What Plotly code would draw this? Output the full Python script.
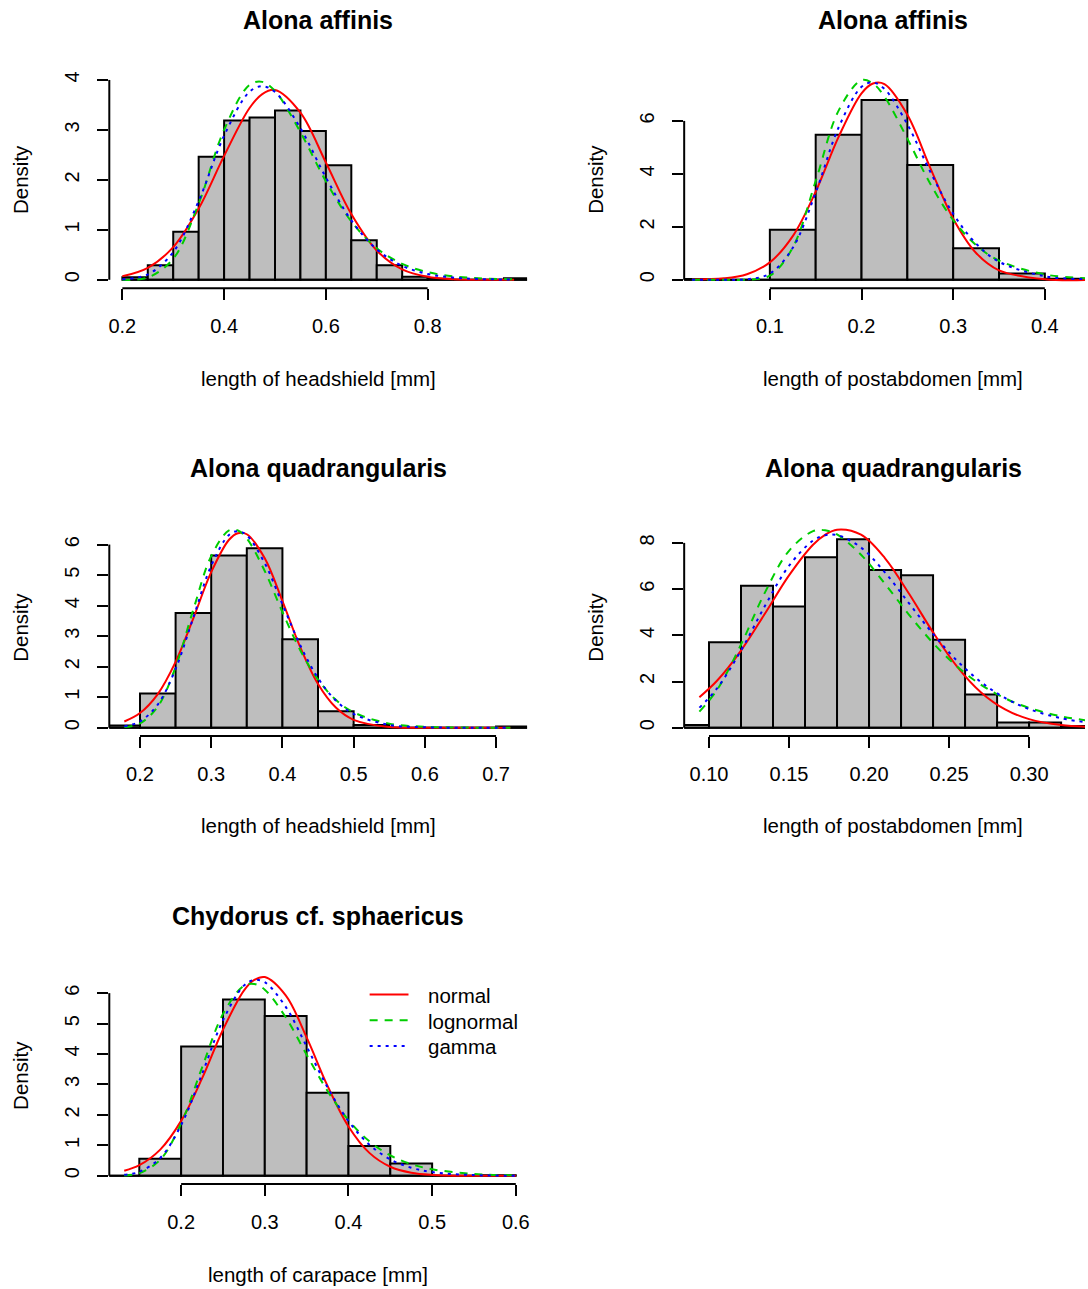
import plotly.graph_objects as go

# ------------------------------------------------------------------ data
TITLES = ["Alona affinis", "Alona affinis", "Alona quadrangularis",
          "Alona quadrangularis", "Chydorus cf. sphaericus"]
XLABELS = ["length of headshield [mm]", "length of postabdomen [mm]",
           "length of headshield [mm]", "length of postabdomen [mm]",
           "length of carapace [mm]"]
YLABEL = "Density"

# panel 1 : Alona affinis, headshield
P1_BREAKS = [0.20, 0.25, 0.30, 0.35, 0.40, 0.45, 0.50, 0.55, 0.60, 0.65,
             0.70, 0.75, 0.80, 0.85, 0.90, 0.95, 1.00]
P1_DENSITY = [0.05, 0.29, 0.96, 2.46, 3.19, 3.25, 3.39, 2.98, 2.29, 0.79,
              0.29, 0.06, 0.02, 0.00, 0.00, 0.03]
P1_X = [0.20, 0.25, 0.30, 0.35, 0.40, 0.45, 0.475, 0.50, 0.55, 0.60, 0.65,
        0.70, 0.75, 0.80, 0.85, 0.90, 0.97]
P1_NORMAL = [0.070, 0.239, 0.654, 1.426, 2.480, 3.438, 3.717, 3.798, 3.345,
             2.348, 1.315, 0.586, 0.208, 0.059, 0.013, 0.002, 0.000]
P1_LOGNORMAL = [0.001, 0.046, 0.422, 1.525, 3.002, 3.902, 3.961, 3.779, 2.954,
                1.972, 1.168, 0.632, 0.319, 0.153, 0.070, 0.031, 0.010]
P1_GAMMA = [0.009, 0.107, 0.555, 1.575, 2.884, 3.764, 3.874, 3.760, 3.035,
            2.048, 1.190, 0.609, 0.280, 0.117, 0.045, 0.016, 0.003]
P1_XTICKS = [0.2, 0.4, 0.6, 0.8]
P1_XTICKTEXT = ["0.2", "0.4", "0.6", "0.8"]
P1_YTICKS = [0, 1, 2, 3, 4]

# panel 2 : Alona affinis, postabdomen
P2_BREAKS = [0.00, 0.05, 0.10, 0.15, 0.20, 0.25, 0.30, 0.35, 0.40, 0.45]
P2_DENSITY = [0.03, 0.00, 1.89, 5.48, 6.79, 4.33, 1.19, 0.24, 0.04]
P2_X = [0.015, 0.05, 0.075, 0.10, 0.125, 0.15, 0.175, 0.20, 0.2125, 0.225,
        0.25, 0.275, 0.30, 0.325, 0.35, 0.40, 0.45]
P2_NORMAL = [0.006, 0.054, 0.211, 0.657, 1.649, 3.327, 5.397, 7.041, 7.411,
             7.387, 6.232, 4.228, 2.307, 1.012, 0.357, 0.023, 0.001]
P2_LOGNORMAL = [0.000, 0.000, 0.003, 0.154, 1.222, 3.731, 6.388, 7.539, 7.411,
                6.920, 5.332, 3.628, 2.254, 1.310, 0.725, 0.201, 0.052]
P2_GAMMA = [0.000, 0.000, 0.017, 0.234, 1.209, 3.288, 5.750, 7.286, 7.450,
            7.209, 5.871, 4.082, 2.493, 1.365, 0.681, 0.135, 0.021]
P2_XTICKS = [0.1, 0.2, 0.3, 0.4]
P2_XTICKTEXT = ["0.1", "0.2", "0.3", "0.4"]
P2_YTICKS = [0, 2, 4, 6]

# panel 3 : Alona quadrangularis, headshield
P3_BREAKS = [0.15, 0.20, 0.25, 0.30, 0.35, 0.40, 0.45, 0.50, 0.55, 0.60,
             0.65, 0.70, 0.75]
P3_DENSITY = [0.07, 1.12, 3.76, 5.64, 5.88, 2.90, 0.54, 0.09, 0.00, 0.00,
              0.00, 0.04]
P3_X = [0.178, 0.20, 0.225, 0.25, 0.275, 0.30, 0.325, 0.3375, 0.35, 0.375,
        0.40, 0.425, 0.45, 0.475, 0.50, 0.55, 0.60, 0.65, 0.72]
P3_NORMAL = [0.203, 0.481, 1.104, 2.157, 3.592, 5.096, 6.158, 6.373, 6.338,
             5.557, 4.150, 2.640, 1.431, 0.661, 0.260, 0.025, 0.001, 0.000,
             0.000]
P3_LOGNORMAL = [0.020, 0.144, 0.692, 1.990, 3.878, 5.620, 6.467, 6.462, 6.202,
                5.141, 3.791, 2.541, 1.574, 0.914, 0.504, 0.135, 0.032, 0.007,
                0.001]
P3_GAMMA = [0.045, 0.207, 0.760, 1.926, 3.617, 5.305, 6.316, 6.440, 6.302,
            5.398, 4.049, 2.701, 1.625, 0.892, 0.451, 0.093, 0.015, 0.002,
            0.000]
P3_XTICKS = [0.2, 0.3, 0.4, 0.5, 0.6, 0.7]
P3_XTICKTEXT = ["0.2", "0.3", "0.4", "0.5", "0.6", "0.7"]
P3_YTICKS = [0, 1, 2, 3, 4, 5, 6]

# panel 4 : Alona quadrangularis, postabdomen
P4_BREAKS = [0.08, 0.10, 0.12, 0.14, 0.16, 0.18, 0.20, 0.22, 0.24, 0.26,
             0.28, 0.30, 0.32, 0.34]
P4_DENSITY = [0.12, 3.70, 6.14, 5.25, 7.38, 8.16, 6.83, 6.60, 3.81, 1.44,
              0.23, 0.23, 0.07]
P4_X = [0.094, 0.105, 0.12, 0.135, 0.15, 0.165, 0.1725, 0.18, 0.195, 0.21,
        0.225, 0.24, 0.255, 0.27, 0.285, 0.30, 0.32, 0.34]
P4_NORMAL = [1.320, 2.032, 3.340, 4.945, 6.595, 7.922, 8.349, 8.571, 8.353,
             7.332, 5.797, 4.128, 2.649, 1.530, 0.796, 0.373, 0.116, 0.030]
P4_LOGNORMAL = [0.699, 1.634, 3.601, 5.859, 7.657, 8.507, 8.548, 8.363, 7.485,
                6.224, 4.887, 3.664, 2.649, 1.858, 1.274, 0.857, 0.493, 0.278]
P4_GAMMA = [0.869, 1.702, 3.342, 5.276, 7.010, 8.098, 8.327, 8.341, 7.798,
            6.715, 5.384, 4.059, 2.898, 1.973, 1.287, 0.807, 0.411, 0.198]
P4_XTICKS = [0.10, 0.15, 0.20, 0.25, 0.30]
P4_XTICKTEXT = ["0.10", "0.15", "0.20", "0.25", "0.30"]
P4_YTICKS = [0, 2, 4, 6, 8]

# panel 5 : Chydorus cf. sphaericus, carapace
P5_BREAKS = [0.10, 0.15, 0.20, 0.25, 0.30, 0.35, 0.40, 0.45, 0.50, 0.55,
             0.60]
P5_DENSITY = [0.00, 0.56, 4.25, 5.79, 5.25, 2.73, 0.98, 0.40, 0.00, 0.02]
P5_X = [0.132, 0.15, 0.175, 0.20, 0.225, 0.25, 0.275, 0.2875, 0.30, 0.325,
        0.35, 0.375, 0.40, 0.425, 0.45, 0.475, 0.50, 0.55, 0.60]
P5_NORMAL = [0.163, 0.347, 0.861, 1.804, 3.198, 4.796, 6.083, 6.434, 6.527,
             5.923, 4.546, 2.952, 1.621, 0.753, 0.296, 0.098, 0.028, 0.001,
             0.000]
P5_LOGNORMAL = [0.013, 0.085, 0.528, 1.719, 3.554, 5.313, 6.241, 6.301, 6.113,
                5.206, 3.976, 2.787, 1.825, 1.132, 0.671, 0.384, 0.214, 0.062,
                0.017]
P5_GAMMA = [0.031, 0.131, 0.586, 1.665, 3.346, 5.108, 6.246, 6.435, 6.358,
            5.549, 4.248, 2.905, 1.799, 1.023, 0.539, 0.265, 0.122, 0.022,
            0.003]
P5_XTICKS = [0.2, 0.3, 0.4, 0.5, 0.6]
P5_XTICKTEXT = ["0.2", "0.3", "0.4", "0.5", "0.6"]
P5_YTICKS = [0, 1, 2, 3, 4, 5, 6]

LEGEND_NAMES = ["normal", "lognormal", "gamma"]

# ------------------------------------------------------------------ style / layout
W, H = 1088, 1289
FONT = "Liberation Sans, Arial, Helvetica, sans-serif"
BAR_FILL = "#BEBEBE"
CURVE_STYLES = [dict(color="#FF0000", dash="solid"),
                dict(color="#00CD00", dash="8px,7px"),
                dict(color="#0000FF", dash="3px,5px")]

# plot-region boxes in pixels (left, right, top, bottom) and two reference
# ticks per axis (value, pixel) used to set the axis ranges
PANELS = [
    dict(box=(108.7, 528.0, 71.5, 287.5), xr=(0.2, 121.8, 0.8, 428.2), yr=(0, 279.0, 4, 79.0)),
    dict(box=(685.7, 1105.0, 71.5, 287.5), xr=(0.1, 771.7, 0.4, 1047.7), yr=(0, 279.0, 6, 120.0)),
    dict(box=(108.7, 528.0, 519.8, 735.5), xr=(0.2, 139.5, 0.7, 496.9), yr=(0, 727.3, 6, 544.0)),
    dict(box=(685.7, 1105.0, 519.8, 735.5), xr=(0.10, 710.6, 0.30, 1031.9), yr=(0, 727.3, 8, 542.3)),
    dict(box=(108.7, 528.0, 968.2, 1184.0), xr=(0.2, 180.8, 0.6, 516.7), yr=(0, 1175.7, 6, 992.9)),
]

DATA = [
    (P1_BREAKS, P1_DENSITY, P1_X, [P1_NORMAL, P1_LOGNORMAL, P1_GAMMA], P1_XTICKS, P1_XTICKTEXT, P1_YTICKS),
    (P2_BREAKS, P2_DENSITY, P2_X, [P2_NORMAL, P2_LOGNORMAL, P2_GAMMA], P2_XTICKS, P2_XTICKTEXT, P2_YTICKS),
    (P3_BREAKS, P3_DENSITY, P3_X, [P3_NORMAL, P3_LOGNORMAL, P3_GAMMA], P3_XTICKS, P3_XTICKTEXT, P3_YTICKS),
    (P4_BREAKS, P4_DENSITY, P4_X, [P4_NORMAL, P4_LOGNORMAL, P4_GAMMA], P4_XTICKS, P4_XTICKTEXT, P4_YTICKS),
    (P5_BREAKS, P5_DENSITY, P5_X, [P5_NORMAL, P5_LOGNORMAL, P5_GAMMA], P5_XTICKS, P5_XTICKTEXT, P5_YTICKS),
]

fig = go.Figure()
layout_update = {}
shapes = []
annotations = []

TICK_FONT = dict(family=FONT, size=20, color="black")
LABEL_SIZE = 20.5
TITLE_SIZE = 25

for i, (panel, data) in enumerate(zip(PANELS, DATA)):
    n = i + 1
    breaks, dens, cx, curves, xticks, xticktext, yticks = data
    L, R, T, B = panel["box"]
    Rvis = min(R, W)
    xv1, xp1, xv2, xp2 = panel["xr"]
    yv1, yp1, yv2, yp2 = panel["yr"]
    sx = (xp2 - xp1) / (xv2 - xv1)
    sy = (yp1 - yp2) / (yv2 - yv1)
    x0 = xv1 + (L - xp1) / sx
    x1 = xv1 + (Rvis - xp1) / sx
    y0 = yv1 - (B - yp1) / sy
    y1 = yv1 + (yp1 - T) / sy

    xa = "x" if n == 1 else f"x{n}"
    ya = "y" if n == 1 else f"y{n}"

    centers = [(a + b) / 2 for a, b in zip(breaks[:-1], breaks[1:])]
    widths = [b - a for a, b in zip(breaks[:-1], breaks[1:])]
    fig.add_trace(go.Bar(x=centers, y=dens, width=widths, xaxis=xa, yaxis=ya,
                         marker=dict(color=BAR_FILL, line=dict(color="black", width=2)),
                         showlegend=False, hoverinfo="skip"))
    # zero-height bins are drawn by R as a line along y = 0
    fig.add_trace(go.Scatter(x=[breaks[0], breaks[-1]], y=[0, 0], mode="lines",
                             xaxis=xa, yaxis=ya, line=dict(color="black", width=2),
                             showlegend=False, hoverinfo="skip"))
    for name, ys, st in zip(LEGEND_NAMES, curves, CURVE_STYLES):
        fig.add_trace(go.Scatter(x=cx, y=ys, mode="lines", name=name,
                                 xaxis=xa, yaxis=ya,
                                 line=dict(color=st["color"], dash=st["dash"],
                                           width=2, shape="spline", smoothing=1.0),
                                 showlegend=False))

    axis_common = dict(showgrid=False, zeroline=False, showline=False,
                       ticks="outside", ticklen=11, tickwidth=2, tickcolor="black",
                       tickfont=TICK_FONT, fixedrange=True)
    layout_update["xaxis" if n == 1 else f"xaxis{n}"] = dict(
        axis_common, domain=[L / W, Rvis / W], range=[x0, x1], anchor=ya,
        tickmode="array", tickvals=xticks, ticktext=xticktext, tickangle=0,
        ticklabelstandoff=9)
    layout_update["yaxis" if n == 1 else f"yaxis{n}"] = dict(
        axis_common, domain=[1 - B / H, 1 - T / H], range=[y0, y1], anchor=xa,
        tickmode="array", tickvals=yticks, ticktext=[str(v) for v in yticks],
        tickangle=-90, ticklabelstandoff=10)

    # R-style axis lines spanning first..last tick (paper coordinates)
    def px_x(v):
        return L + (v - x0) * sx

    def py_y(v):
        return B - (v - y0) * sy

    shapes.append(dict(type="line", xref="paper", yref="paper",
                       x0=px_x(xticks[0]) / W, x1=px_x(xticks[-1]) / W,
                       y0=1 - B / H, y1=1 - B / H,
                       line=dict(color="black", width=2)))
    shapes.append(dict(type="line", xref="paper", yref="paper",
                       x0=L / W, x1=L / W,
                       y0=1 - py_y(yticks[0]) / H, y1=1 - py_y(yticks[-1]) / H,
                       line=dict(color="black", width=2)))

    cxp = (L + R) / 2
    # main title
    annotations.append(dict(text="<b>" + TITLES[i] + "</b>", xref="paper", yref="paper",
                            x=cxp / W, y=1 - (T - 52) / H, xanchor="center", yanchor="middle",
                            showarrow=False, font=dict(family=FONT, size=TITLE_SIZE, color="black")))
    # x label
    annotations.append(dict(text=XLABELS[i], xref="paper", yref="paper",
                            x=cxp / W, y=1 - (B + 90) / H, xanchor="center", yanchor="middle",
                            showarrow=False, font=dict(family=FONT, size=LABEL_SIZE, color="black")))
    # y label
    annotations.append(dict(text=YLABEL, xref="paper", yref="paper",
                            x=(L - 89) / W, y=1 - ((T + B) / 2 - 1) / H,
                            xanchor="center", yanchor="middle", textangle=-90,
                            showarrow=False, font=dict(family=FONT, size=LABEL_SIZE, color="black")))

# legend (panel 5, top right)
LEG_Y = [994.3, 1020.0, 1045.7]
for name, st, ly in zip(LEGEND_NAMES, CURVE_STYLES, LEG_Y):
    shapes.append(dict(type="line", xref="paper", yref="paper",
                       x0=370 / W, x1=409 / W, y0=1 - ly / H, y1=1 - ly / H,
                       line=dict(color=st["color"], dash=st["dash"], width=2)))
    annotations.append(dict(text=name, xref="paper", yref="paper",
                            x=427 / W, y=1 - (ly + 1) / H, xanchor="left", yanchor="middle",
                            showarrow=False, font=dict(family=FONT, size=LABEL_SIZE, color="black")))

fig.update_layout(
    width=W, height=H,
    margin=dict(l=0, r=0, t=0, b=0),
    paper_bgcolor="white", plot_bgcolor="white",
    showlegend=False, bargap=0,
    shapes=shapes, annotations=annotations,
    **layout_update,
)

# remove the browser's default 8px page margin so the figure sits at (0, 0)
fig.write_html("out.html",
               config={"displayModeBar": False, "staticPlot": True},
               post_script="document.body.style.margin='0';document.body.style.overflow='hidden';")
